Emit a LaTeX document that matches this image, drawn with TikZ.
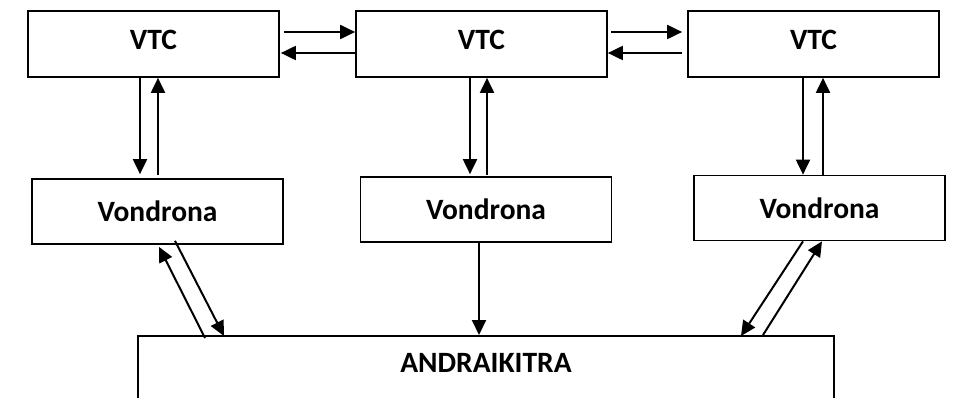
\documentclass[tikz,border=0pt]{standalone}
\usepackage{fontspec}
\setmainfont{Carlito}
\usetikzlibrary{arrows.meta}

\begin{document}
\begin{tikzpicture}[x=1pt, y=1pt, draw=black,
  box/.style={draw, line width=1.7pt, minimum width=251pt, minimum height=66pt, inner sep=0pt, font=\fontsize{29.5}{33}\selectfont\bfseries},
  vtcbox/.style={box, text depth=8pt},
  arr/.style={line width=2pt, -{Triangle[length=15pt,width=14pt]}}]

\clip (0,0) rectangle (960,-398);

\node[vtcbox] (vtcA) at (153.5,-44) {VTC};
\node[vtcbox] (vtcB) at (481.5,-44) {VTC};
\node[vtcbox] (vtcC) at (813.5,-44) {VTC};

\node[box, minimum height=65pt] (vondA) at (157.5,-211.5) {Vondrona};
\node[box, minimum height=65pt] (vondB) at (486,-209.5) {Vondrona};
\node[box, minimum height=65pt] (vondC) at (819.5,-208) {Vondrona};

% bottom box runs past the page edge
\node[box, minimum width=696pt, minimum height=0pt, anchor=north, text height=37pt, text depth=70pt] (andr) at (486,-335) {ANDRAIKITRA};

\draw[arr] ([shift={(4,12)}]vtcA.east) -- ([yshift=12pt]vtcB.west);
\draw[arr] ([yshift=-9pt]vtcB.west) -- ([shift={(1,-9)}]vtcA.east);
\draw[arr] ([shift={(3,12)}]vtcB.east) -- ([shift={(-5,12)}]vtcC.west);
\draw[arr] ([shift={(-5,-9)}]vtcC.west) -- ([yshift=-9pt]vtcB.east);

\draw[arr] ([xshift=-13.5pt]vtcA.south) -- ([shift={(-17.5,4)}]vondA.north);
\draw[arr] ([shift={(0.5,3)}]vondA.north) -- ([xshift=4.5pt]vtcA.south);
\draw[arr] ([xshift=-11.5pt]vtcB.south) -- ([shift={(-16,2)}]vondB.north);
\draw[arr] ([shift={(1,1)}]vondB.north) -- ([xshift=5.5pt]vtcB.south);
\draw[arr] ([xshift=-10.5pt]vtcC.south) -- ([shift={(-16.5,0)}]vondC.north);
\draw[arr] ([shift={(3.5,0)}]vondC.north) -- ([xshift=9.5pt]vtcC.south);

\draw[arr] ([shift={(17.5,4)}]vondA.south) -- ([shift={(-262,-1)}]andr.north);
\draw[arr] ([shift={(-281,-3)}]andr.north) -- ([shift={(1.5,-2)}]vondA.south);
\draw[arr] ([xshift=-7pt]vondB.south) -- ([xshift=-7pt]andr.north);
\draw[arr] ([xshift=-16.5pt]vondC.south) -- ([shift={(255,-1)}]andr.north);
\draw[arr] ([xshift=277pt]andr.north) -- ([xshift=2.5pt]vondC.south);
\end{tikzpicture}
\end{document}
